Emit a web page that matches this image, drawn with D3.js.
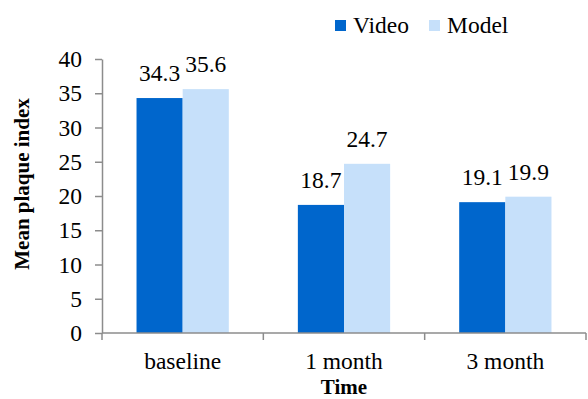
<!DOCTYPE html>
<html>
<head>
<meta charset="utf-8">
<script src="https://cdn.jsdelivr.net/npm/d3@7"></script>
<style>
  body { margin: 0; background: #fff; }
  svg text { font-family: "Liberation Serif", "Times New Roman", serif !important; fill: #000; }
</style>
</head>
<body>
<div id="chart"></div>
<script>
var categories = ["baseline", "1 month", "3 month"];
var seriesNames = ["Video", "Model"];
var videoValues = [34.3, 18.7, 19.1];
var modelValues = [35.6, 24.7, 19.9];
var yTicks = [0, 5, 10, 15, 20, 25, 30, 35, 40];

var width = 588, height = 399;
var colors = { Video: "#0066cc", Model: "#c6e0fa" };
var axisColor = "#8c8c8c";
var fontSize = "23.5px";

var plot = { left: 102, right: 586, top: 59, bottom: 333 };

var svg = d3.select("#chart").append("svg")
    .attr("width", width)
    .attr("height", height)
    .attr("font-family", "Liberation Serif, serif");

var data = categories.map(function (c, i) {
    return { category: c, Video: videoValues[i], Model: modelValues[i] };
});

var x0 = d3.scaleBand()
    .domain(categories)
    .range([plot.left, plot.right])
    .paddingInner(0)
    .paddingOuter(0);

// each group is ~92px wide inside a ~161px band
var groupWidth = x0.bandwidth() * 0.572;
var x1 = d3.scaleBand()
    .domain(seriesNames)
    .range([0, groupWidth]);

var y = d3.scaleLinear()
    .domain([0, 40])
    .range([plot.bottom, plot.top]);

// bars
var groups = svg.selectAll(".group")
    .data(data)
    .enter().append("g")
    .attr("class", "group")
    .attr("transform", function (d) {
        return "translate(" + (x0(d.category) + (x0.bandwidth() - groupWidth) / 2) + ",0)";
    });

groups.selectAll("rect")
    .data(function (d) { return seriesNames.map(function (s) { return { key: s, value: d[s] }; }); })
    .enter().append("rect")
    .attr("x", function (d) { return x1(d.key); })
    .attr("y", function (d) { return y(d.value); })
    .attr("width", x1.bandwidth())
    .attr("height", function (d) { return y(0) - y(d.value); })
    .style("fill", function (d) { return colors[d.key]; });

groups.selectAll(".dataLabel")
    .data(function (d) { return seriesNames.map(function (s) { return { key: s, value: d[s] }; }); })
    .enter().append("text")
    .attr("class", "dataLabel")
    .attr("x", function (d) { return x1(d.key) + x1.bandwidth() / 2; })
    .attr("y", function (d) { return y(d.value) - 17; })
    .attr("text-anchor", "middle")
    .style("font-size", fontSize)
    .text(function (d) { return d.value.toFixed(1); });

// y axis
var yAxis = svg.append("g")
    .attr("transform", "translate(" + plot.left + ",0)")
    .call(d3.axisLeft(y).tickValues(yTicks).tickSize(7).tickSizeOuter(0).tickPadding(13));
yAxis.attr("font-family", null);
yAxis.select(".domain").attr("stroke", axisColor).attr("stroke-width", 1.5);
yAxis.selectAll(".tick line").attr("stroke", axisColor).attr("stroke-width", 1.5);
yAxis.selectAll(".tick text")
    .style("font-size", fontSize)
    .attr("fill", "#000");

// x axis: ticks at category boundaries
var bounds = [plot.left].concat(categories.map(function (c) { return x0(c) + x0.bandwidth(); }));
var xAxis = svg.append("g").attr("class", "xaxis");
xAxis.append("line")
    .attr("x1", plot.left).attr("x2", plot.right)
    .attr("y1", y(0)).attr("y2", y(0))
    .attr("stroke", axisColor).attr("stroke-width", 1.5);
xAxis.selectAll(".xtick")
    .data(bounds)
    .enter().append("line")
    .attr("x1", function (d) { return d; }).attr("x2", function (d) { return d; })
    .attr("y1", y(0)).attr("y2", y(0) + 7)
    .attr("stroke", axisColor).attr("stroke-width", 1.5);
xAxis.selectAll(".xlabel")
    .data(categories)
    .enter().append("text")
    .attr("x", function (d) { return x0(d) + x0.bandwidth() / 2; })
    .attr("y", 369)
    .attr("text-anchor", "middle")
    .style("font-size", fontSize)
    .text(function (d) { return d; });

// axis titles
svg.append("text")
    .attr("x", (plot.left + plot.right) / 2)
    .attr("y", 394)
    .attr("text-anchor", "middle")
    .style("font-size", "21px")
    .style("font-weight", "bold")
    .text("Time");

svg.append("text")
    .attr("transform", "translate(29," + 184 + ") rotate(-90)")
    .attr("text-anchor", "middle")
    .style("font-size", "21px")
    .style("font-weight", "bold")
    .text("Mean plaque index");

// legend
var legendPos = [335, 429];
var legend = svg.selectAll(".legend")
    .data(seriesNames)
    .enter().append("g")
    .attr("class", "legend")
    .attr("transform", function (d, i) { return "translate(" + legendPos[i] + ",20)"; });
legend.append("rect")
    .attr("width", 11).attr("height", 11)
    .style("fill", function (d) { return colors[d]; });
legend.append("text")
    .attr("x", 18)
    .attr("y", 13)
    .style("font-size", fontSize)
    .text(function (d) { return d; });
</script>
</body>
</html>
